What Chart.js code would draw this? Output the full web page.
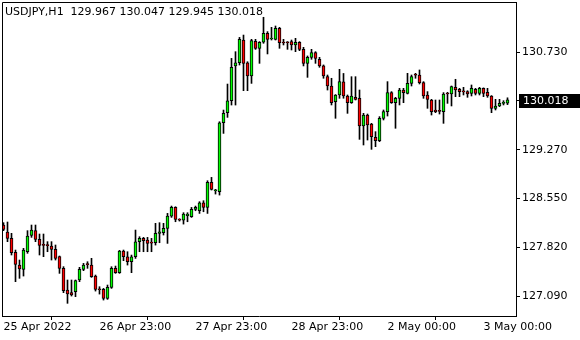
<!DOCTYPE html>
<html>
<head>
<meta charset="utf-8">
<script src="https://cdn.jsdelivr.net/npm/chart.js@4.4.1/dist/chart.umd.min.js"></script>
<style>
html, body { margin: 0; padding: 0; background: #fff; }
</style>
</head>
<body>
<canvas id="myChart" width="580" height="340"></canvas>
<script>
// USDJPY H1 candles, one entry per hour (index 0 = 25 Apr 23:00)
const symbol = 'USDJPY,H1';
const opens = [
    128.149, 128.045, 127.950, 127.741, 127.552, 127.488, 127.751, 127.995, 128.065, 127.935,
    127.851, 127.851, 127.836, 127.786, 127.677, 127.503, 127.180, 127.140, 127.155, 127.329,
    127.488, 127.562, 127.552, 127.388, 127.189, 127.189, 127.055, 127.219, 127.502, 127.438,
    127.761, 127.676, 127.602, 127.676, 127.900, 127.950, 127.925, 127.885, 127.885, 128.025,
    128.035, 128.099, 128.283, 128.412, 128.233, 128.223, 128.290, 128.273, 128.382, 128.362,
    128.482, 128.412, 128.785, 128.661, 128.646, 129.675, 129.825, 130.003, 130.521, 130.570,
    130.909, 130.570, 130.372, 130.890, 130.785, 130.875, 131.009, 130.924, 130.919, 131.083,
    130.875, 130.870, 130.885, 130.835, 130.875, 130.770, 130.561, 130.651, 130.720, 130.621,
    130.522, 130.362, 130.223, 129.989, 130.089, 130.285, 130.074, 129.974, 130.054, 130.039,
    129.626, 129.790, 129.656, 129.457, 129.408, 129.741, 129.840, 130.124, 129.974, 130.039,
    130.163, 130.114, 130.263, 130.387, 130.387, 130.273, 130.089, 130.014, 129.865, 129.855,
    129.840, 130.114, 130.104, 130.203, 130.173, 130.139, 130.139, 130.114, 130.173, 130.114,
    130.188, 130.129, 130.074, 129.890, 129.925, 129.964, 129.967
];
const highs = [
    128.184, 128.194, 128.025, 127.776, 127.627, 127.801, 128.065, 128.149, 128.149, 128.015,
    128.015, 127.901, 127.901, 127.851, 127.687, 127.528, 127.329, 127.329, 127.329, 127.518,
    127.577, 127.602, 127.652, 127.403, 127.229, 127.204, 127.254, 127.527, 127.537, 127.771,
    127.776, 127.751, 127.701, 128.074, 127.975, 127.965, 127.965, 127.950, 128.174, 128.184,
    128.174, 128.323, 128.432, 128.422, 128.243, 128.333, 128.333, 128.412, 128.432, 128.497,
    128.512, 128.810, 128.860, 128.681, 129.690, 129.864, 130.252, 130.635, 130.735, 130.948,
    130.983, 130.585, 130.919, 130.919, 130.885, 131.248, 131.034, 131.098, 131.118, 131.098,
    130.919, 130.885, 130.909, 130.934, 130.885, 130.800, 130.671, 130.770, 130.735, 130.651,
    130.537, 130.387, 130.338, 130.095, 130.472, 130.410, 130.089, 130.362, 130.362, 130.163,
    129.815, 129.805, 129.666, 129.542, 129.766, 129.865, 130.288, 130.139, 130.054, 130.188,
    130.188, 130.412, 130.387, 130.412, 130.462, 130.288, 130.139, 130.024, 130.014, 130.014,
    130.124, 130.129, 130.223, 130.323, 130.188, 130.203, 130.153, 130.238, 130.188, 130.203,
    130.195, 130.188, 130.080, 130.024, 130.024, 130.004, 130.047
];
const lows = [
    128.065, 127.901, 127.702, 127.304, 127.354, 127.388, 127.727, 127.965, 127.901, 127.702,
    127.677, 127.751, 127.627, 127.627, 127.428, 127.140, 126.981, 127.090, 127.080, 127.304,
    127.468, 127.503, 127.368, 127.164, 127.119, 127.030, 127.040, 127.204, 127.428, 127.428,
    127.617, 127.552, 127.438, 127.651, 127.751, 127.751, 127.751, 127.751, 127.850, 127.885,
    128.000, 127.875, 128.263, 128.198, 128.208, 128.163, 128.198, 128.263, 128.362, 128.322,
    128.347, 128.322, 128.671, 128.611, 128.596, 129.516, 129.755, 129.939, 129.939, 130.536,
    130.153, 130.153, 130.262, 130.769, 130.561, 130.860, 130.701, 130.909, 130.909, 130.785,
    130.835, 130.770, 130.760, 130.735, 130.750, 130.522, 130.352, 130.621, 130.561, 130.502,
    130.338, 130.163, 129.940, 129.741, 130.039, 130.040, 129.815, 129.964, 130.014, 129.427,
    129.343, 129.417, 129.278, 129.318, 129.393, 129.716, 129.775, 129.964, 129.592, 129.940,
    129.974, 130.104, 130.223, 130.338, 130.253, 130.039, 129.890, 129.790, 129.825, 129.805,
    129.666, 129.964, 129.925, 130.064, 130.064, 130.089, 130.054, 130.074, 130.089, 130.089,
    130.064, 130.054, 129.825, 129.865, 129.915, 129.940, 129.945
];
const closes = [
    128.085, 127.950, 127.736, 127.562, 127.493, 127.776, 127.985, 128.075, 127.935, 127.846,
    127.846, 127.841, 127.786, 127.652, 127.503, 127.170, 127.120, 127.105, 127.319, 127.488,
    127.552, 127.558, 127.378, 127.189, 127.184, 127.055, 127.219, 127.502, 127.438, 127.761,
    127.676, 127.602, 127.676, 127.900, 127.950, 127.915, 127.875, 127.880, 128.025, 128.049,
    128.099, 128.283, 128.412, 128.233, 128.223, 128.313, 128.313, 128.382, 128.412, 128.482,
    128.412, 128.785, 128.681, 128.661, 129.675, 129.815, 130.003, 130.501, 130.570, 130.919,
    130.560, 130.372, 130.899, 130.785, 130.875, 131.009, 130.919, 130.929, 131.083, 130.870,
    130.865, 130.868, 130.835, 130.875, 130.770, 130.561, 130.651, 130.720, 130.636, 130.522,
    130.372, 130.223, 129.975, 130.089, 130.288, 130.074, 129.974, 130.074, 130.024, 129.626,
    129.790, 129.641, 129.467, 129.408, 129.741, 129.840, 130.124, 129.974, 130.039, 130.163,
    130.124, 130.263, 130.362, 130.383, 130.273, 130.074, 130.024, 129.840, 129.840, 129.845,
    130.104, 130.104, 130.213, 130.163, 130.139, 130.136, 130.104, 130.188, 130.114, 130.188,
    130.114, 130.074, 129.890, 129.925, 129.964, 129.969, 130.018
];
const timeTicks = [0, 24, 48, 72, 96, 120];
const timeLabels = ['25 Apr 2022', '26 Apr 23:00', '27 Apr 23:00', '28 Apr 23:00', '2 May 00:00', '3 May 00:00'];
const priceTicks = [127.090, 127.820, 128.550, 129.270, 130.730];

const font = { family: 'DejaVu Sans', size: 11 };
const last = closes.length - 1;

const wicks = opens.map((o, i) => ({ x: i, y: [lows[i], highs[i]] }));
const bodies = opens.map((o, i) => ({ x: i, y: [o, closes[i]] }));
const bodyColors = opens.map((o, i) => closes[i] >= o ? '#00ff00' : '#ff0000');

// frame, header text and current price box
const mtPlugin = {
    id: 'mtPlugin',
    afterDraw(chart) {
        const ctx = chart.ctx;
        const a = chart.chartArea;
        ctx.save();
        ctx.strokeStyle = '#000';
        ctx.lineWidth = 1;
        ctx.beginPath();
        ctx.moveTo(a.left + 0.5, a.bottom);
        ctx.lineTo(a.left + 0.5, a.top + 0.5);
        ctx.lineTo(a.right, a.top + 0.5);
        ctx.stroke();

        ctx.font = '11px "DejaVu Sans"';
        ctx.fillStyle = '#000';
        ctx.textBaseline = 'middle';
        ctx.textAlign = 'left';
        const head = symbol + '  ' + [opens[last], highs[last], lows[last], closes[last]].map(v => v.toFixed(3)).join(' ');
        ctx.fillText(head, 5, 12);

        const y = Math.round(chart.scales.y.getPixelForValue(closes[last]));
        ctx.beginPath();
        ctx.moveTo(a.right, y + 0.5);
        ctx.lineTo(a.right + 3, y + 0.5);
        ctx.stroke();
        ctx.fillRect(a.right + 3, y - 6, 64, 14);
        ctx.fillStyle = '#fff';
        ctx.fillText(closes[last].toFixed(3), a.right + 7, y + 1);
        ctx.restore();
    }
};

const config = {
    type: 'bar',
    data: {
        datasets: [{
            label: 'bodies',
            data: bodies,
            backgroundColor: bodyColors,
            borderColor: '#000',
            borderWidth: 1,
            borderSkipped: false,
            barThickness: 3,
            minBarLength: 1,
            grouped: false,
            order: 1
        },
        {
            label: 'wicks',
            data: wicks,
            backgroundColor: '#000',
            borderWidth: 0,
            barThickness: 1,
            grouped: false,
            order: 2
        }]
    },
    options: {
        responsive: false,
        animation: false,
        layout: { padding: { top: 2, left: 2, right: 0, bottom: 0 } },
        plugins: {
            legend: { display: false },
            tooltip: { enabled: false }
        },
        scales: {
            x: {
                type: 'linear',
                min: -0.375,
                max: 128.125,
                offset: false,
                grid: { drawOnChartArea: false, drawTicks: true, tickLength: 4, tickColor: '#000' },
                border: { display: true, color: '#000' },
                afterBuildTicks: s => { s.ticks = timeTicks.map(v => ({ value: v })); },
                afterFit: s => { s.height = 24; s.paddingLeft = 0; s.paddingRight = 0; },
                ticks: {
                    align: 'start',
                    autoSkip: false,
                    maxRotation: 0,
                    padding: 1,
                    color: '#000',
                    font: font,
                    callback: (v, i) => timeLabels[i]
                }
            },
            y: {
                position: 'right',
                min: 126.792,
                max: 131.476,
                grid: { drawOnChartArea: false, drawTicks: true, tickLength: 4, tickColor: '#000' },
                border: { display: true, color: '#000' },
                afterBuildTicks: s => { s.ticks = priceTicks.map(v => ({ value: v })); },
                afterFit: s => { s.width = 64; s.paddingTop = 0; s.paddingBottom = 0; },
                ticks: {
                    padding: 2,
                    color: '#000',
                    font: font,
                    callback: v => v.toFixed(3)
                }
            }
        }
    },
    plugins: [mtPlugin]
};

const myChart = new Chart(document.getElementById('myChart'), config);
</script>
</body>
</html>
